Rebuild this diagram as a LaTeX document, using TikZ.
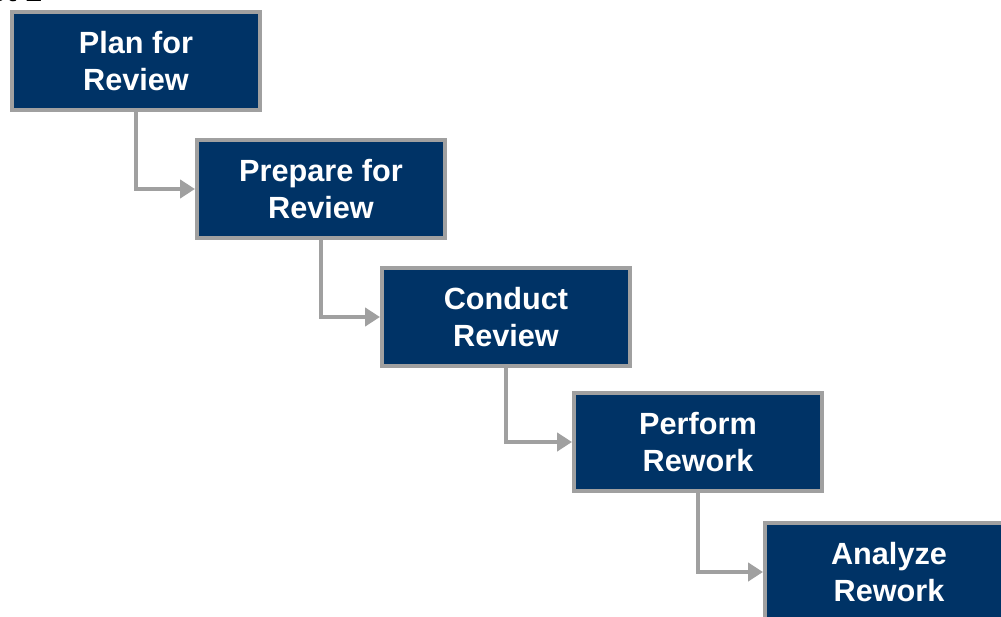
\documentclass[tikz,border=0pt]{standalone}
\usepackage{fontspec}
\setmainfont{Liberation Sans}
\usetikzlibrary{arrows.meta}

\definecolor{stepnavy}{RGB}{0,51,102}
\definecolor{stepgray}{RGB}{160,160,160}

\tikzset{
  stepbox/.style={draw=stepgray,line width=0.1cm,fill=stepnavy,text=white,
    minimum width=6.2cm,minimum height=2.425cm,inner sep=0pt,align=center,
    font=\bfseries\fontsize{21.8}{26.5}\selectfont},
  steplink/.style={draw=stepgray,line width=0.1cm,
    -{Triangle[length=0.37cm,width=0.45cm]}}
}

\begin{document}
\begin{tikzpicture}[x=0.025cm,y=-0.025cm]
\useasboundingbox (0,0) rectangle (1001,617);
\node[anchor=base east,font=\bfseries\fontsize{21.8}{26.5}\selectfont] (head) at (47,2) {ct 1};
\node[stepbox] (plan) at (136,61) {Plan for\\Review};
\node[stepbox] (prepare) at (321,189) {Prepare for\\Review};
\node[stepbox] (conduct) at (506,317) {Conduct\\Review};
\node[stepbox] (perform) at (698,442) {Perform\\Rework};
\node[stepbox] (analyze) at (889,572) {Analyze\\Rework};
\draw[steplink] (plan.south) |- (prepare.west);
\draw[steplink] (prepare.south) |- (conduct.west);
\draw[steplink] (conduct.south) |- (perform.west);
\draw[steplink] (perform.south) |- (analyze.west);
\end{tikzpicture}
\end{document}
